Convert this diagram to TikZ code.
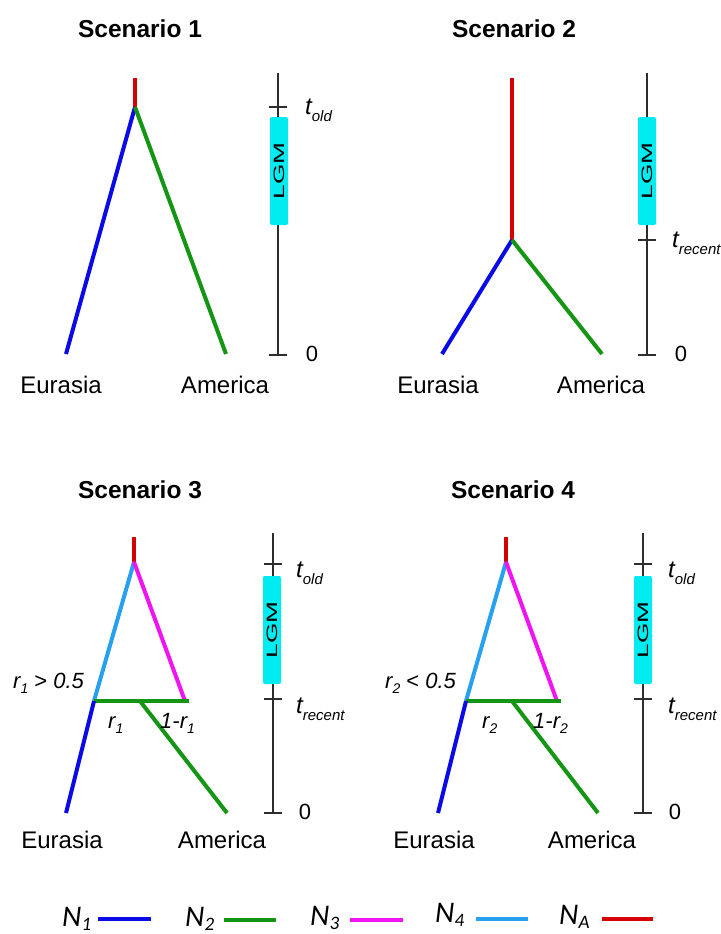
\documentclass[tikz,border=0pt]{standalone}
\usepackage{fontspec}
\setmainfont{Liberation Sans}
\newfontfamily\legfont{Carlito}
\definecolor{cNone}{RGB}{10,10,230}
\definecolor{cNtwo}{RGB}{20,150,20}
\definecolor{cNthree}{RGB}{240,20,240}
\definecolor{cNfour}{RGB}{40,160,240}
\definecolor{cNA}{RGB}{215,0,0}
\definecolor{cLGM}{RGB}{0,236,240}
\definecolor{axcol}{RGB}{45,45,45}
\newcommand\tlab[1]{\fontsize{24}{24}\selectfont\itshape t\raisebox{-7pt}{\fontsize{15}{15}\selectfont #1}}
\newcommand\rsub[1]{\raisebox{-5pt}{\fontsize{14}{14}\selectfont #1}}
\newcommand\nsub[1]{\raisebox{-4pt}{\fontsize{19}{19}\selectfont #1}}
\begin{document}
\begin{tikzpicture}[x=1pt,y=-1pt,
  br/.style={line width=4pt},
  bone/.style={br,draw=cNone},
  btwo/.style={br,draw=cNtwo},
  bthree/.style={br,draw=cNthree},
  bfour/.style={br,draw=cNfour},
  bA/.style={br,draw=cNA},
  axis/.style={line width=1.3pt,draw=axcol},
  lgm/.style={fill=cLGM,rounded corners=2pt,minimum width=108pt,minimum height=18pt,inner sep=0pt,
    text=black,font=\fontsize{15}{15}\selectfont,rotate=90},
  ttl/.style={font=\bfseries\fontsize{24.5}{25}\selectfont},
  place/.style={font=\fontsize{24}{24}\selectfont,anchor=base,inner sep=0pt},
  zero/.style={font=\fontsize{22}{22}\selectfont,anchor=base,inner sep=0pt},
  tl/.style={anchor=base west,inner sep=0pt},
  rl/.style={anchor=base west,inner sep=0pt,font=\fontsize{22}{22}\selectfont\itshape},
  leg/.style={anchor=base west,inner sep=0pt,font=\legfont\itshape\fontsize{30}{30}\selectfont},
]
\clip (0,0) rectangle (720,934);
\fill[white] (0,0) rectangle (720,934);

% ---------------- Scenario 1
\node[ttl] (T1) at (140,29) {Scenario 1};
\coordinate (a1top) at (135,78);
\coordinate (a1) at (135,107);
\coordinate (e1) at (66,354);
\coordinate (m1) at (226,354);
\draw[bA] (a1top) -- (a1);
\draw[bone] (a1) -- (e1);
\draw[btwo] (a1) -- (m1);
\coordinate (x1top) at (278,73);
\coordinate (x1bot) at (278,355);
\coordinate (x1old) at (278,107);
\draw[axis] (x1top) -- (x1bot);
\draw[axis] ([xshift=-9pt]x1old) -- ([xshift=9pt]x1old);
\draw[axis] ([xshift=-9pt]x1bot) -- ([xshift=9pt]x1bot);
\node[lgm] (L1) at (279,171) {\scalebox{1.75}[1]{LGM}};
\node[tl] (to1) at (305,114) {\tlab{old}};
\node[zero] (z1) at (312,361) {0};
\node[place] (eu1) at (61,393) {Eurasia};
\node[place] (am1) at (225,393) {America};

% ---------------- Scenario 2
\node[ttl] (T2) at (514,29) {Scenario 2};
\coordinate (a2top) at (512,78);
\coordinate (a2) at (512,240);
\coordinate (e2) at (442,354);
\coordinate (m2) at (602,354);
\draw[bA] (a2top) -- (a2);
\draw[bone] (a2) -- (e2);
\draw[btwo] (a2) -- (m2);
\coordinate (x2top) at (647,73);
\coordinate (x2bot) at (647,355);
\coordinate (x2rec) at (647,240);
\draw[axis] (x2top) -- (x2bot);
\draw[axis] ([xshift=-9pt]x2rec) -- ([xshift=9pt]x2rec);
\draw[axis] ([xshift=-9pt]x2bot) -- ([xshift=9pt]x2bot);
\node[lgm] (L2) at (647,171) {\scalebox{1.75}[1]{LGM}};
\node[tl] (tr2) at (672,247) {\tlab{recent}};
\node[zero] (z2) at (681,361) {0};
\node[place] (eu2) at (438,393) {Eurasia};
\node[place] (am2) at (601,393) {America};

% ---------------- Scenario 3
\node[ttl] (T3) at (140,490) {Scenario 3};
\coordinate (a3top) at (134,537);
\coordinate (a3) at (134,562);
\coordinate (j3) at (94,701);
\coordinate (k3) at (185,701);
\coordinate (h3) at (189,701);
\coordinate (s3) at (140,701);
\coordinate (e3) at (66,813);
\coordinate (m3) at (227,813);
\draw[bA] (a3top) -- (a3);
\draw[bfour] (a3) -- (j3);
\draw[bthree] (a3) -- (k3);
\draw[btwo] (j3) -- (h3);
\draw[btwo] (s3) -- (m3);
\draw[bone] (j3) -- (e3);
\coordinate (x3top) at (273,533);
\coordinate (x3bot) at (273,813);
\coordinate (x3old) at (273,564);
\coordinate (x3rec) at (273,699);
\draw[axis] (x3top) -- (x3bot);
\draw[axis] ([xshift=-9pt]x3old) -- ([xshift=9pt]x3old);
\draw[axis] ([xshift=-9pt]x3rec) -- ([xshift=9pt]x3rec);
\draw[axis] ([xshift=-9pt]x3bot) -- ([xshift=9pt]x3bot);
\node[lgm] (L3) at (272,630) {\scalebox{1.75}[1]{LGM}};
\node[tl] (to3) at (296,577) {\tlab{old}};
\node[tl] (tr3) at (296,713) {\tlab{recent}};
\node[zero] (z3) at (305,819) {0};
\node[rl] (rr3) at (13,688) {r\rsub{1} \upshape{>} \itshape 0.5};
\node[rl] (ra3) at (108,728) {r\rsub{1}};
\node[rl] (rb3) at (160,728) {1-r\rsub{1}};
\node[place] (eu3) at (62,848) {Eurasia};
\node[place] (am3) at (222,848) {America};

% ---------------- Scenario 4
\node[ttl] (T4) at (513,490) {Scenario 4};
\coordinate (a4top) at (506,537);
\coordinate (a4) at (506,562);
\coordinate (j4) at (466,701);
\coordinate (k4) at (557,701);
\coordinate (h4) at (561,701);
\coordinate (s4) at (512,701);
\coordinate (e4) at (438,813);
\coordinate (m4) at (598,813);
\draw[bA] (a4top) -- (a4);
\draw[bfour] (a4) -- (j4);
\draw[bthree] (a4) -- (k4);
\draw[btwo] (j4) -- (h4);
\draw[btwo] (s4) -- (m4);
\draw[bone] (j4) -- (e4);
\coordinate (x4top) at (643,533);
\coordinate (x4bot) at (643,813);
\coordinate (x4old) at (643,564);
\coordinate (x4rec) at (643,699);
\draw[axis] (x4top) -- (x4bot);
\draw[axis] ([xshift=-9pt]x4old) -- ([xshift=9pt]x4old);
\draw[axis] ([xshift=-9pt]x4rec) -- ([xshift=9pt]x4rec);
\draw[axis] ([xshift=-9pt]x4bot) -- ([xshift=9pt]x4bot);
\node[lgm] (L4) at (643,630) {\scalebox{1.75}[1]{LGM}};
\node[tl] (to4) at (668,577) {\tlab{old}};
\node[tl] (tr4) at (668,713) {\tlab{recent}};
\node[zero] (z4) at (675,819) {0};
\node[rl] (rr4) at (385,688) {r\rsub{2} \upshape{<} \itshape 0.5};
\node[rl] (ra4) at (482,728) {r\rsub{2}};
\node[rl] (rb4) at (533,728) {1-r\rsub{2}};
\node[place] (eu4) at (434,848) {Eurasia};
\node[place] (am4) at (592,848) {America};

% ---------------- Legend
\node[leg] (n1) at (62,926) {N\nsub{1}};
\node[leg] (n2) at (185,926) {N\nsub{2}};
\node[leg] (n3) at (310,925) {N\nsub{3}};
\node[leg] (n4) at (435,922) {N\nsub{4}};
\node[leg] (nA) at (559,924) {N\nsub{A}};
\coordinate (l1a) at (98,919);  \coordinate (l1b) at (151,919);
\coordinate (l2a) at (224,920); \coordinate (l2b) at (276,920);
\coordinate (l3a) at (350,920); \coordinate (l3b) at (403,920);
\coordinate (l4a) at (476,919); \coordinate (l4b) at (528,919);
\coordinate (lAa) at (602,919); \coordinate (lAb) at (653,919);
\draw[bone] (l1a) -- (l1b);
\draw[btwo] (l2a) -- (l2b);
\draw[bthree] (l3a) -- (l3b);
\draw[bfour] (l4a) -- (l4b);
\draw[bA] (lAa) -- (lAb);
\end{tikzpicture}
\end{document}
